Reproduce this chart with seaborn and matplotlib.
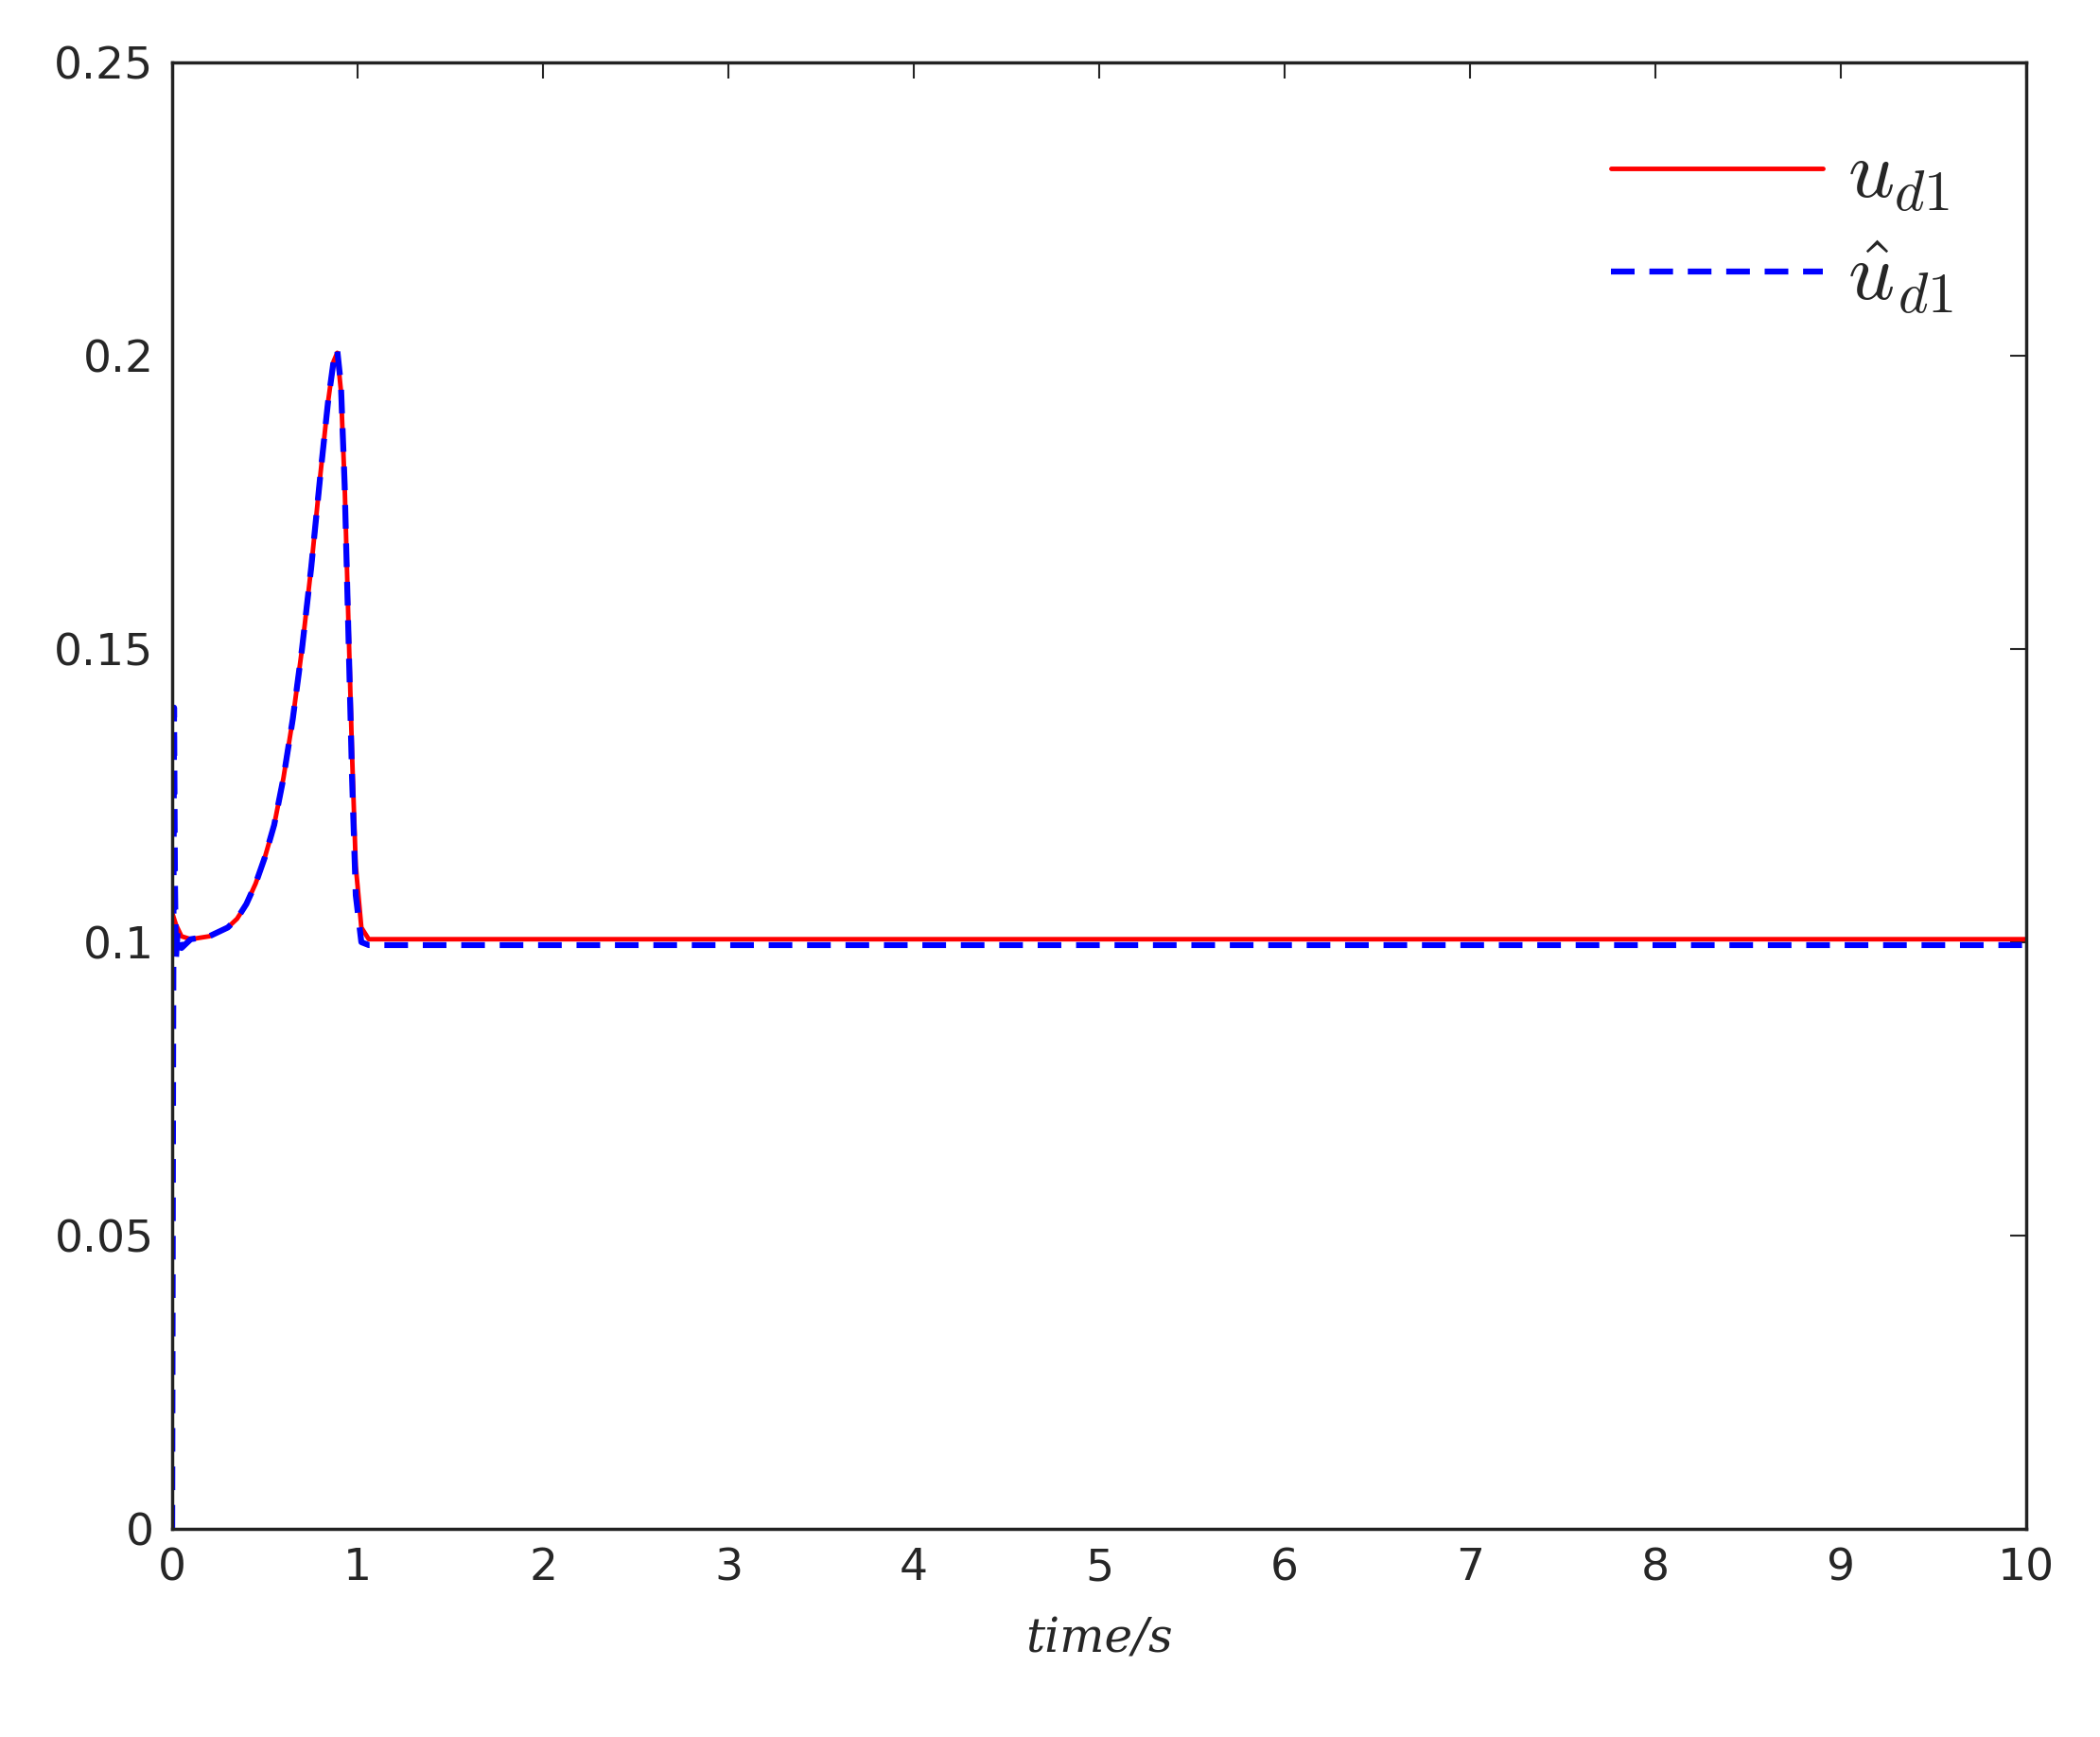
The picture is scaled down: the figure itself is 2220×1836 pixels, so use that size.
import matplotlib
matplotlib.use("Agg")
import matplotlib.pyplot as plt
import seaborn as sns

sns.set_style("white")
plt.rcParams['font.family'] = ['DejaVu Sans']
plt.rcParams['mathtext.fontset'] = 'cm'

t_red = [0.0, 0.02, 0.05, 0.1, 0.2, 0.3, 0.35, 0.4, 0.45, 0.5, 0.55, 0.6, 0.65, 0.7, 0.75, 0.8, 0.84, 0.87, 0.89, 0.91, 0.93, 0.95, 0.97, 0.99, 1.02, 1.06, 1.2, 2, 4, 6, 8, 10]
u_red = [0.105, 0.103, 0.101, 0.1005, 0.101, 0.1025, 0.104, 0.1065, 0.110, 0.1145, 0.120, 0.128, 0.138, 0.150, 0.164, 0.180, 0.192, 0.199, 0.2005, 0.194, 0.178, 0.155, 0.132, 0.113, 0.1025, 0.1005, 0.1005, 0.1005, 0.1005, 0.1005, 0.1005, 0.1005]
t_blue = [0.0, 0.005, 0.01, 0.015, 0.02, 0.03, 0.05, 0.1, 0.2, 0.3, 0.35, 0.4, 0.45, 0.5, 0.55, 0.6, 0.65, 0.7, 0.75, 0.8, 0.84, 0.87, 0.89, 0.91, 0.93, 0.95, 0.97, 0.99, 1.02, 1.06, 1.2, 2, 4, 6, 8, 10]
u_blue = [0.0, 0.08, 0.14, 0.11, 0.097, 0.102, 0.099, 0.1005, 0.101, 0.1025, 0.104, 0.1065, 0.110, 0.1145, 0.120, 0.128, 0.138, 0.150, 0.164, 0.180, 0.192, 0.199, 0.201, 0.195, 0.178, 0.153, 0.128, 0.108, 0.1, 0.0995, 0.0995, 0.0995, 0.0995, 0.0995, 0.0995, 0.0995]

fig = plt.figure(figsize=(22.2, 18.36), dpi=100)
ax = fig.add_axes([0.082, 0.12, 0.883, 0.844])
sns.lineplot(x=t_red, y=u_red, ax=ax, color='#ff0000', lw=3.5, label=r'$u_{d1}$')
sns.lineplot(x=t_blue, y=u_blue, ax=ax, color='#0000ff', lw=4.5, linestyle=(0, (4, 2.5)), label=r'$\hat{u}_{d1}$')
ax.set_xlim(0, 10)
ax.set_ylim(0, 0.25)
ax.set_xticks(range(0, 11))
ax.set_yticks([0, 0.05, 0.1, 0.15, 0.2, 0.25])
ax.set_yticklabels(['0', '0.05', '0.1', '0.15', '0.2', '0.25'])
ax.tick_params(labelsize=34, direction='in', length=12, width=1.5, top=True, right=True, pad=14)
for s in ax.spines.values():
    s.set_linewidth(2.5)
    s.set_color('#222222')
ax.set_xlabel('time/s', fontsize=36, style='italic', family='serif', labelpad=20)
ax.legend(loc='upper right', fontsize=62, frameon=False, handlelength=2.6, handletextpad=0.3,
          labelspacing=0.3, borderaxespad=0.5)
fig.savefig('out.png', dpi=100, facecolor='white')
